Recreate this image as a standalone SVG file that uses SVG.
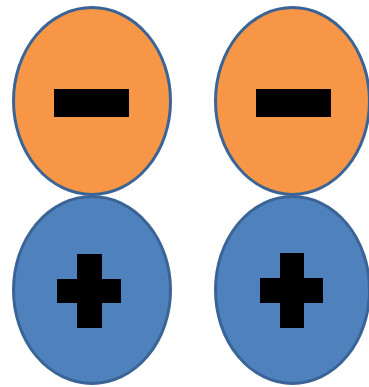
<svg xmlns="http://www.w3.org/2000/svg" width="369" height="387" viewBox="0 0 369 387">
<style>
.neg{fill:#F79646;stroke:#3B6496;stroke-width:3}
.pos{fill:#4F81BD;stroke:#3B6496;stroke-width:3}
.sym{fill:#000000}
</style>
<rect width="369" height="387" fill="#FFFFFF"/>
<g id="neg-left">
<ellipse class="neg" cx="92" cy="101" rx="78.5" ry="93.5"/>
<rect class="sym" x="54" y="89" width="75" height="28"/>
</g>
<g id="pos-left">
<ellipse class="pos" cx="92" cy="290" rx="78.5" ry="93.5"/>
<path class="sym" d="M77 254H102V279H121V303H102V328H77V303H57V279H77Z"/>
</g>
<g id="neg-right">
<ellipse class="neg" cx="292.5" cy="101" rx="77" ry="93.5"/>
<rect class="sym" x="256" y="89" width="75" height="28"/>
</g>
<g id="pos-right">
<ellipse class="pos" cx="292.5" cy="290" rx="77" ry="93.5"/>
<path class="sym" d="M280 253H304V278H323V303H304V328H280V303H260V278H280Z"/>
</g>
<g id="connectors"/>
</svg>
